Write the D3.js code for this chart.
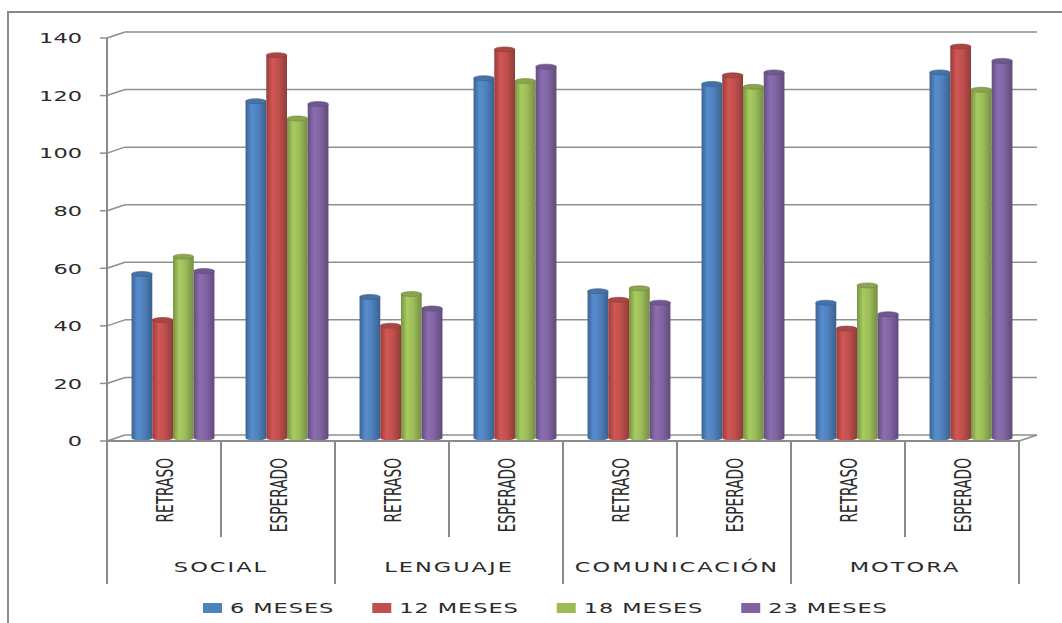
<!DOCTYPE html>
<html lang="es">
<head>
<meta charset="UTF-8">
<title>Desarrollo por área</title>
<script src="https://d3js.org/d3.v7.min.js"></script>
<style>
    body { margin: 0; background: #fff; }
    svg { display: block; }
    text { font-family: "DejaVu Sans", Verdana, sans-serif; fill: #2b2b2b; }
    .sub { font-family: "DejaVu Sans Condensed", "DejaVu Sans", sans-serif; font-stretch: condensed; }
</style>
</head>
<body>
<div id="chart"></div>
<script>
// data
const groups = ["SOCIAL", "LENGUAJE", "COMUNICACIÓN", "MOTORA"];
const subs = ["RETRASO", "ESPERADO"];
const seriesNames = ["6 MESES", "12 MESES", "18 MESES", "23 MESES"];
const meses6  = [57, 117, 49, 125, 51, 123, 47, 127];
const meses12 = [41, 133, 39, 135, 48, 126, 38, 136];
const meses18 = [63, 111, 50, 124, 52, 122, 53, 121];
const meses23 = [58, 116, 45, 129, 47, 127, 43, 131];
const yTicks = [0, 20, 40, 60, 80, 100, 120, 140];

const seriesValues = [meses6, meses12, meses18, meses23];
const colors = ["#4F81BD", "#C0504D", "#9BBB59", "#8064A2"];

const width = 1062, height = 623;
const sx = 1.55;           // the picture is stretched sideways
const depthX = 18, depthY = 6;
const left = 107, right = 1019, floorY = 441, topY = 38;

const svg = d3.select("#chart").append("svg")
    .attr("width", width).attr("height", height);

const defs = svg.append("defs");
colors.forEach((c, i) => {
    const base = d3.color(c);
    const g = defs.append("linearGradient").attr("id", "cyl" + i)
        .attr("x1", "0%").attr("x2", "100%").attr("y1", "0%").attr("y2", "0%");
    g.append("stop").attr("offset", "0%").attr("stop-color", base.darker(0.7));
    g.append("stop").attr("offset", "30%").attr("stop-color", base.brighter(0.25));
    g.append("stop").attr("offset", "60%").attr("stop-color", base);
    g.append("stop").attr("offset", "100%").attr("stop-color", base.darker(0.8));
});

// outer frame
svg.append("rect").attr("x", 8).attr("y", 12)
    .attr("width", 1100).attr("height", 700)
    .attr("fill", "none").attr("stroke", "#8a8a8a").attr("stroke-width", 2);

const y = d3.scaleLinear().domain([0, 140]).range([floorY, topY]);

// flat list of categories
const cats = [];
groups.forEach(g => subs.forEach(s => cats.push(g + "|" + s)));

const x0 = d3.scaleBand().domain(cats).range([left, right]).padding(0);
const x1 = d3.scaleBand().domain(seriesNames).range([0, x0.bandwidth()])
    .paddingInner(0).paddingOuter(0.75);

// gridlines on back wall
const grid = svg.append("g");
yTicks.forEach(t => {
    const yy = y(t);
    grid.append("line").attr("x1", left).attr("y1", yy)
        .attr("x2", left + depthX).attr("y2", yy - depthY)
        .attr("stroke", "#8f8f8f").attr("stroke-width", 1.5);
    grid.append("line").attr("x1", left + depthX).attr("y1", yy - depthY)
        .attr("x2", right + depthX).attr("y2", yy - depthY)
        .attr("stroke", "#8f8f8f").attr("stroke-width", 1.5);
    grid.append("line").attr("x1", left - 7).attr("x2", left)
        .attr("y1", yy).attr("y2", yy)
        .attr("stroke", "#8f8f8f").attr("stroke-width", 1.5);
    grid.append("g")
        .attr("transform", `translate(82,${yy}) scale(${sx},1)`)
        .append("text").attr("text-anchor", "end").attr("dy", "0.36em")
        .style("font-size", "14.5px").text(t);
});

// floor right edge
svg.append("line").attr("x1", right).attr("y1", floorY)
    .attr("x2", right + depthX).attr("y2", floorY - depthY)
    .attr("stroke", "#8f8f8f").attr("stroke-width", 1.5);

// bars as cylinders
const barsG = svg.append("g");
cats.forEach((cat, ci) => {
    seriesNames.forEach((s, si) => {
        const v = seriesValues[si][ci];
        const bx = x0(cat) + x1(s) + depthX / 2;
        const bw = x1.bandwidth();
        const yTop = y(v) - depthY / 2;
        const yBot = floorY - depthY / 2;
        const ry = 2.5;
        const g = barsG.append("g");
        g.append("path")
            .attr("d", `M${bx},${yTop} L${bx},${yBot} A${bw / 2},${ry} 0 0 0 ${bx + bw},${yBot} L${bx + bw},${yTop} Z`)
            .attr("fill", `url(#cyl${si})`);
        g.append("ellipse")
            .attr("cx", bx + bw / 2).attr("cy", yTop)
            .attr("rx", bw / 2).attr("ry", ry)
            .attr("fill", d3.color(colors[si]).darker(0.35))
            .attr("stroke", d3.color(colors[si]).darker(0.9)).attr("stroke-width", 0.6);
    });
});

// axes lines
svg.append("line").attr("x1", left).attr("x2", left).attr("y1", topY).attr("y2", 584)
    .attr("stroke", "#8a8a8a").attr("stroke-width", 2);
svg.append("line").attr("x1", left).attr("x2", right).attr("y1", floorY).attr("y2", floorY)
    .attr("stroke", "#8a8a8a").attr("stroke-width", 2);

// category separators
cats.forEach((cat, ci) => {
    const xx = x0(cat) + x0.bandwidth();
    const isGroupEnd = ci % 2 === 1;
    svg.append("line").attr("x1", xx).attr("x2", xx)
        .attr("y1", floorY).attr("y2", isGroupEnd ? 584 : 537)
        .attr("stroke", "#8a8a8a").attr("stroke-width", 2);
});

// sub labels (rotated)
cats.forEach((cat, ci) => {
    const cx = x0(cat) + x0.bandwidth() / 2;
    svg.append("g")
        .attr("transform", `translate(${cx},458) scale(${sx},1) rotate(-90)`)
        .append("text").attr("class", "sub")
        .attr("text-anchor", "end").attr("dy", "0.36em")
        .style("font-size", "15.3px").text(subs[ci % 2]);
});

// group labels
groups.forEach((g, gi) => {
    const cx = x0(g + "|" + subs[0]);
    const mid = cx + x0.bandwidth();
    svg.append("g")
        .attr("transform", `translate(${mid},572) scale(${sx},1)`)
        .append("text").attr("text-anchor", "middle")
        .style("font-size", "14.5px").style("letter-spacing", "1.3px").text(g);
});

// legend
const legend = svg.append("g");
let lx = 203;
seriesNames.forEach((s, i) => {
    legend.append("rect").attr("x", lx).attr("y", 603)
        .attr("width", 19).attr("height", 10).attr("fill", colors[i]);
    const tg = legend.append("g")
        .attr("transform", `translate(${lx + 27},613) scale(${sx},1)`);
    const t = tg.append("text").style("font-size", "14.5px")
        .style("letter-spacing", "0.6px").text(s);
    const w = t.node().getComputedTextLength() * sx;
    lx += 27 + w + 38;
});
</script>
</body>
</html>
